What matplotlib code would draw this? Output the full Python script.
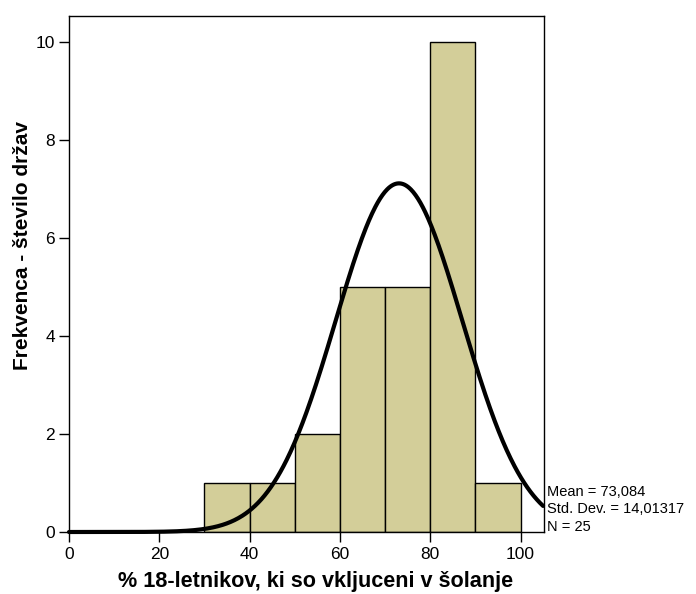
import numpy as np
import matplotlib
matplotlib.use("Agg")
import matplotlib.pyplot as plt

plt.rcParams['font.family'] = ['Liberation Sans', 'DejaVu Sans']

bin_edges = [30, 40, 50, 60, 70, 80, 90, 100]
counts = [1, 1, 2, 5, 5, 10, 1]
mean = 73.084
std = 14.01317
n = 25
xticks = [0, 20, 40, 60, 80, 100]
yticks = [0, 2, 4, 6, 8, 10]

fig = plt.figure(figsize=(6.96, 5.94), dpi=100)
ax = fig.add_axes([69/696, 1 - 532/594, (544 - 69)/696, (532 - 15.7)/594])

lefts = bin_edges[:-1]
widths = np.diff(bin_edges)
ax.bar(lefts, counts, width=widths, align='edge', color='#D3CE99',
       edgecolor='black', linewidth=1.0, zorder=2)

xs = np.linspace(0, 105, 600)
bw = widths[0]
ys = n * bw / (std * np.sqrt(2 * np.pi)) * np.exp(-0.5 * ((xs - mean) / std) ** 2)
ax.plot(xs, ys, color='black', linewidth=3.0, zorder=3, clip_on=False,
        solid_capstyle='round')

ax.set_xlim(0, 105.2)
ax.set_ylim(0, 10.54)
ax.set_xticks(xticks)
ax.set_yticks(yticks)
ax.tick_params(direction='out', length=7, width=1, labelsize=12.5)
ax.tick_params(axis='x', pad=4)
ax.tick_params(axis='y', pad=3)
for s in ax.spines.values():
    s.set_linewidth(1.0)

fig.text(316/696, 1 - 581/594, '% 18-letnikov, ki so vkljuceni v šolanje',
         fontsize=15.6, fontweight='bold', ha='center', va='center')
fig.text(23/696, 1 - 246/594, 'Frekvenca - število držav', fontsize=15,
         fontweight='bold', ha='center', va='center', rotation=90)

stats = ['Mean = 73,084', 'Std. Dev. = 14,01317', 'N = 25']
ys_txt = [492, 509, 527]
for t, yp in zip(stats, ys_txt):
    fig.text(547/696, 1 - yp/594, t, fontsize=10.5, ha='left', va='center')

fig.savefig('out.png', dpi=100)
